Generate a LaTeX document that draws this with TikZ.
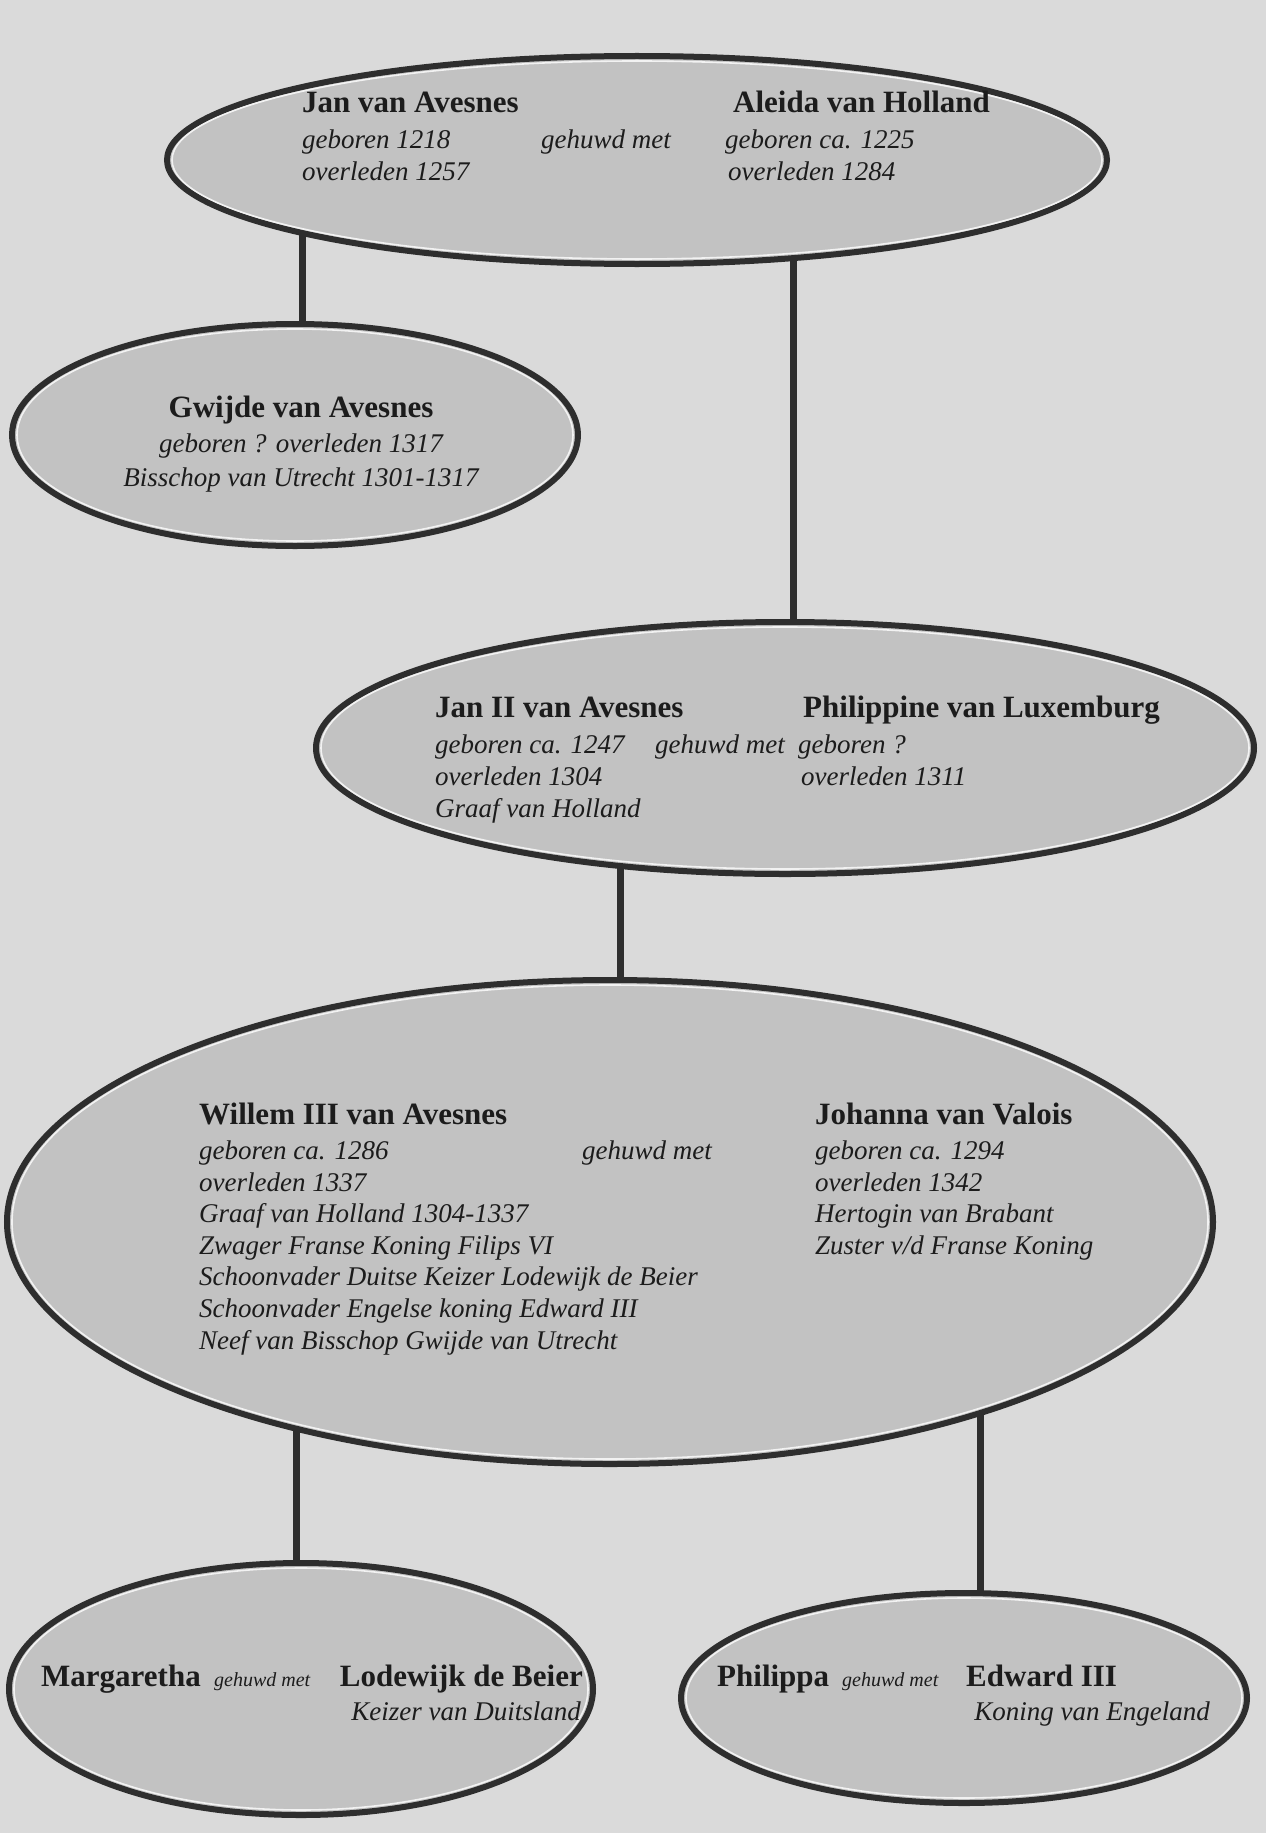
\documentclass[tikz,border=0pt]{standalone}
\usepackage{fontspec}
\setmainfont{Liberation Serif}
\usetikzlibrary{shapes.geometric}
\pgfdeclarelayer{bg}
\pgfdeclarelayer{links}
\pgfsetlayers{bg,links,main}

\definecolor{pagebg}{HTML}{DADADA}
\definecolor{ovalfill}{HTML}{C2C2C2}
\definecolor{ink}{HTML}{2E2E2E}
\definecolor{txt}{HTML}{1C1C1C}

\tikzset{
  famnode/.style={ellipse, draw=ink, line width=6pt, fill=ovalfill, inner sep=0pt},
  innerline/.style={draw=white!90!gray, line width=1.6pt},
  link/.style={draw=ink, line width=7pt},
  nametxt/.style={anchor=base west, inner sep=0pt, text=txt, font=\fontsize{31}{33}\selectfont\bfseries},
  infotxt/.style={anchor=base west, inner sep=0pt, text=txt, font=\fontsize{27}{31}\selectfont\itshape},
  smalltxt/.style={anchor=base west, inner sep=0pt, text=txt, font=\fontsize{20}{22}\selectfont\itshape},
}

\newcommand\famoval[5]{%
  \node[famnode, minimum width={2*#4pt}, minimum height={2*#5pt}] (#1) at (#2,#3) {};
  \draw[innerline] (#1.center) ellipse [x radius={#4pt-5pt}, y radius={#5pt-5pt}];
}

\begin{document}
\begin{tikzpicture}[x=1pt,y=-1pt]
\begin{pgfonlayer}{bg}
  \fill[pagebg] (0,0) rectangle (1266,1833);
\end{pgfonlayer}
\useasboundingbox (0,0) rectangle (1266,1833);

% ovals
\famoval{top}{637}{160}{470}{104}
\famoval{gw}{295}{435}{283}{111}
\famoval{jan2}{785}{748}{469}{126}
\famoval{wil}{610}{1222}{603}{242}
\famoval{marg}{301}{1689}{292}{126}
\famoval{phil}{964}{1698}{283}{105}

% connector anchor points
\coordinate (gwl) at ([xshift=7pt]gw.center);
\coordinate (janl) at ([xshift=8pt]jan2.center);
\coordinate (will) at ([xshift=10pt]wil.center);
\coordinate (margl) at ([xshift=-5pt]marg.center);
\coordinate (phill) at ([xshift=16pt]phil.center);

\begin{pgfonlayer}{links}
  \draw[link] (gwl |- top.center) -- (gwl);
  \draw[link] (janl |- top.center) -- (janl);
  \draw[link] (will |- jan2.center) -- (will);
  \draw[link] (margl |- wil.center) -- (margl);
  \draw[link] (phill |- wil.center) -- (phill);
\end{pgfonlayer}

% top couple
\node[nametxt] (janA) at (302,113) {Jan van Avesnes};
\node[nametxt] (aleida) at (733,113) {Aleida van Holland};
\node[infotxt] (janAb) at (302,148) {geboren 1218};
\node[infotxt] (topm) at (541,148) {gehuwd met};
\node[infotxt] (aleidab) at (725,148) {geboren ca. 1225};
\node[infotxt] (janAd) at (302,180) {overleden 1257};
\node[infotxt] (aleidad) at (728,180) {overleden 1284};

% Gwijde
\node[nametxt, anchor=base] (gwn) at (301,417) {Gwijde van Avesnes};
\node[infotxt, anchor=base] (gwb) at (301,452) {geboren ? overleden 1317};
\node[infotxt, anchor=base] (gwt) at (301,486) {Bisschop van Utrecht 1301-1317};

% Jan II couple
\node[nametxt] (j2n) at (435,717) {Jan II van Avesnes};
\node[nametxt] (phn) at (803,717) {Philippine van Luxemburg};
\node[infotxt] (j2b) at (435,753) {geboren ca. 1247};
\node[infotxt] (j2m) at (655,753) {gehuwd met};
\node[infotxt] (phb) at (798,753) {geboren ?};
\node[infotxt] (j2d) at (435,785) {overleden 1304};
\node[infotxt] (phd) at (801,785) {overleden 1311};
\node[infotxt] (j2t) at (435,817) {Graaf van Holland};

% Willem III couple
\node[nametxt] (wn) at (199,1124) {Willem III van Avesnes};
\node[infotxt] (wb) at (199,1159) {geboren ca. 1286};
\node[infotxt] (wm) at (582,1159) {gehuwd met};
\node[infotxt] (wd) at (199,1191) {overleden 1337};
\node[infotxt] (w1) at (199,1222) {Graaf van Holland 1304-1337};
\node[infotxt] (w2) at (199,1254) {Zwager Franse Koning Filips VI};
\node[infotxt] (w3) at (199,1285) {Schoonvader Duitse Keizer Lodewijk de Beier};
\node[infotxt] (w4) at (199,1317) {Schoonvader Engelse koning Edward III};
\node[infotxt] (w5) at (199,1349) {Neef van Bisschop Gwijde van Utrecht};
\node[nametxt] (jn) at (815,1124) {Johanna van Valois};
\node[infotxt] (jb) at (815,1159) {geboren ca. 1294};
\node[infotxt] (jd) at (815,1191) {overleden 1342};
\node[infotxt] (j1) at (815,1222) {Hertogin van Brabant};
\node[infotxt] (j3) at (815,1254) {Zuster v/d Franse Koning};

% Margaretha couple
\node[nametxt] (mn) at (41,1686) {Margaretha};
\node[smalltxt] (mm) at (214,1686) {gehuwd met};
\node[nametxt, anchor=base east] (ln) at (583,1686) {Lodewijk de Beier};
\node[infotxt, anchor=base east] (lt) at (581,1720) {Keizer van Duitsland};

% Philippa couple
\node[nametxt] (pn) at (717,1686) {Philippa};
\node[smalltxt] (pm) at (842,1686) {gehuwd met};
\node[nametxt] (en) at (966,1686) {Edward III};
\node[infotxt, anchor=base east] (et) at (1210,1720) {Koning van Engeland};
\end{tikzpicture}
\end{document}
